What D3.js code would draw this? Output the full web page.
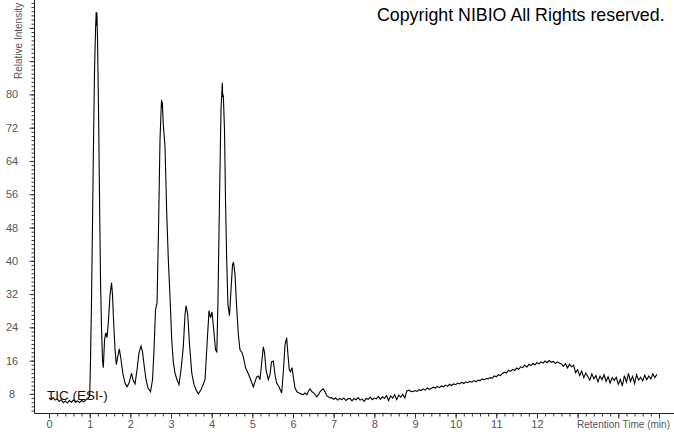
<!DOCTYPE html>
<html>
<head>
<meta charset="utf-8">
<script src="https://cdn.jsdelivr.net/npm/d3@7"></script>
<style>
  body { margin: 0; background: #fff; }
  svg { display: block; font-family: "Liberation Sans", Arial, sans-serif; }
</style>
</head>
<body>
<script>
// chromatogram trace, [retention time (min), relative intensity]
var baselineTrace = [
  [0.0, 7.0], [0.05, 6.6], [0.1, 7.1], [0.15, 6.5], [0.2, 6.8], [0.25, 6.2], [0.3, 6.6],
  [0.35, 5.9], [0.4, 6.3], [0.45, 5.8], [0.5, 6.4], [0.55, 6.0], [0.6, 6.5], [0.65, 6.1],
  [0.7, 6.3], [0.75, 5.9], [0.8, 6.4], [0.85, 6.1], [0.9, 6.5], [0.95, 6.8], [1.0, 7.5]
];

var peakTrace = [
  [1.02, 16.2], [1.045, 30.6], [1.07, 49.8], [1.094, 69.0], [1.119, 85.9], [1.143, 95.5],
  [1.16, 99.8], [1.168, 96.5], [1.175, 99.6], [1.18, 98.4], [1.193, 93.1], [1.217, 76.3],
  [1.242, 54.6], [1.266, 35.4], [1.291, 23.4], [1.315, 16.2], [1.335, 14.3], [1.365, 21.0],
  [1.394, 22.7], [1.426, 21.5], [1.463, 25.8], [1.5, 31.8], [1.537, 34.7], [1.561, 31.8],
  [1.586, 25.8], [1.623, 18.6], [1.655, 15.0], [1.684, 16.7], [1.729, 18.8], [1.77, 16.2],
  [1.82, 12.6], [1.869, 10.6], [1.918, 9.7], [1.967, 10.6], [2.029, 13.0], [2.065, 11.4],
  [2.115, 10.4], [2.164, 13.8], [2.213, 17.9], [2.262, 19.5], [2.299, 18.1], [2.336, 15.0],
  [2.385, 11.4], [2.434, 9.4], [2.496, 8.5], [2.545, 11.4], [2.582, 18.6], [2.619, 28.2],
  [2.656, 29.9], [2.692, 47.4], [2.729, 69.1], [2.766, 78.7], [2.776, 76.9], [2.786, 78.2],
  [2.81, 72.7], [2.852, 67.4], [2.894, 51.5], [2.934, 40.2], [2.975, 31.3], [3.017, 21.0],
  [3.056, 15.7], [3.098, 13.0], [3.147, 11.4], [3.196, 10.2], [3.246, 13.8], [3.302, 19.3],
  [3.344, 27.0], [3.369, 29.2], [3.41, 27.2], [3.456, 19.8], [3.51, 13.0], [3.565, 10.2],
  [3.614, 9.0], [3.671, 8.0], [3.737, 9.0], [3.787, 10.2], [3.836, 11.4], [3.885, 19.8],
  [3.934, 28.0], [3.971, 26.3], [4.008, 27.7], [4.057, 22.7], [4.094, 18.6], [4.126, 18.1],
  [4.155, 30.6], [4.192, 54.6], [4.229, 76.3], [4.261, 82.8], [4.272, 79.4], [4.286, 79.9],
  [4.315, 71.5], [4.34, 54.6], [4.369, 40.2], [4.4, 29.4], [4.438, 26.8], [4.475, 33.0],
  [4.512, 39.0], [4.537, 39.7], [4.574, 36.6], [4.611, 29.4], [4.656, 22.2], [4.696, 18.6],
  [4.746, 17.9], [4.783, 16.7], [4.832, 14.3], [4.893, 13.0], [4.942, 11.8], [5.024, 9.7],
  [5.065, 10.9], [5.106, 12.1], [5.151, 12.3], [5.188, 11.4], [5.225, 15.0], [5.27, 19.3],
  [5.3, 17.9], [5.336, 13.8], [5.392, 11.4], [5.434, 12.6], [5.471, 15.7], [5.515, 15.9],
  [5.557, 12.6], [5.598, 10.6], [5.655, 9.7], [5.721, 8.2], [5.766, 13.8], [5.803, 19.8],
  [5.844, 21.5], [5.876, 17.4], [5.908, 13.8], [5.938, 13.3], [5.975, 14.3], [6.012, 11.8],
  [6.049, 9.4], [6.098, 8.5], [6.147, 8.2], [6.196, 8.0], [6.253, 7.8], [6.295, 8.2],
  [6.344, 7.8], [6.381, 8.7], [6.418, 9.2], [6.467, 8.5], [6.516, 8.2], [6.582, 7.3],
  [6.627, 7.8], [6.663, 8.5], [6.713, 9.0], [6.745, 9.2], [6.786, 8.5], [6.836, 7.5],
  [6.909, 7.0]
];

var tailTrace = [
  [6.95, 7.1], [7.0, 6.7], [7.05, 7.0], [7.1, 6.5], [7.15, 6.9], [7.2, 6.6], [7.25, 7.0],
  [7.3, 6.4], [7.35, 6.8], [7.4, 6.9], [7.45, 6.3], [7.5, 6.9], [7.55, 6.6], [7.6, 7.1],
  [7.65, 6.5], [7.7, 6.8], [7.75, 6.2], [7.8, 6.9], [7.85, 6.7], [7.9, 7.2], [7.95, 6.6],
  [8.0, 7.0], [8.05, 6.8], [8.1, 7.4], [8.15, 6.7], [8.2, 7.3], [8.25, 6.9], [8.3, 7.6],
  [8.35, 6.4], [8.4, 7.5], [8.45, 7.0], [8.5, 7.8], [8.55, 6.6], [8.6, 7.7], [8.65, 7.2],
  [8.7, 7.9], [8.75, 7.0], [8.8, 8.7], [8.85, 8.9], [8.9, 8.6], [8.95, 8.5], [9.0, 8.8],
  [9.05, 8.6], [9.1, 9.0], [9.15, 8.8], [9.2, 9.2], [9.25, 8.9], [9.3, 9.4], [9.35, 9.1],
  [9.4, 9.3], [9.45, 9.6], [9.5, 9.4], [9.55, 9.8], [9.6, 9.5], [9.65, 9.9], [9.7, 9.7],
  [9.75, 10.1], [9.8, 9.8], [9.85, 10.3], [9.9, 10.0], [9.95, 10.4], [10.0, 10.2],
  [10.05, 10.6], [10.1, 10.4], [10.15, 10.8], [10.2, 10.5], [10.25, 10.9], [10.3, 10.7],
  [10.35, 11.0], [10.4, 10.8], [10.45, 11.2], [10.5, 10.9], [10.55, 11.3], [10.6, 11.2],
  [10.65, 11.6], [10.7, 11.4], [10.75, 11.7], [10.8, 11.6], [10.85, 11.9], [10.9, 11.8],
  [10.95, 12.3], [11.0, 12.1], [11.05, 12.6], [11.1, 12.4], [11.15, 12.9], [11.2, 13.2],
  [11.25, 13.0], [11.3, 13.7], [11.35, 13.4], [11.4, 13.9], [11.45, 13.6], [11.5, 14.2],
  [11.55, 13.9], [11.6, 14.5], [11.65, 14.3], [11.7, 14.9], [11.75, 14.4], [11.8, 15.1],
  [11.85, 14.8], [11.9, 15.3], [11.95, 15.0], [12.0, 15.5], [12.05, 15.2], [12.1, 15.7],
  [12.15, 15.4], [12.2, 15.9], [12.25, 15.5], [12.3, 16.0], [12.35, 15.6], [12.4, 15.8],
  [12.45, 15.3], [12.5, 15.7], [12.55, 15.4], [12.6, 15.2], [12.65, 14.6], [12.7, 15.3],
  [12.75, 14.2], [12.8, 15.1], [12.85, 14.5], [12.9, 14.9], [12.95, 13.1], [13.0, 13.8],
  [13.05, 12.4], [13.1, 13.5], [13.15, 11.9], [13.2, 13.0], [13.25, 12.2], [13.3, 11.3],
  [13.35, 12.8], [13.4, 11.6], [13.45, 12.4], [13.5, 10.9], [13.55, 12.3], [13.6, 11.4],
  [13.65, 12.6], [13.7, 11.0], [13.75, 12.1], [13.8, 10.6], [13.85, 11.9], [13.9, 11.2],
  [13.95, 12.0], [14.0, 10.3], [14.05, 11.5], [14.1, 9.9], [14.15, 12.4], [14.2, 10.8],
  [14.25, 12.9], [14.3, 11.0], [14.35, 12.2], [14.4, 10.5], [14.45, 12.6], [14.5, 11.3],
  [14.55, 12.0], [14.6, 11.1], [14.65, 12.5], [14.7, 11.4], [14.75, 12.3], [14.8, 11.6],
  [14.85, 12.8], [14.9, 11.9], [14.95, 12.7]
];

var xTicks = [0, 1, 2, 3, 4, 5, 6, 7, 8, 9, 10, 11, 12, 13, 14, 15];
var xLabelled = [0, 1, 2, 3, 4, 5, 6, 7, 8, 9, 10, 11, 12];
var yTicks = [8, 16, 24, 32, 40, 48, 56, 64, 72, 80, 88, 96];
var yLabelled = [8, 16, 24, 32, 40, 48, 56, 64, 72, 80];

var width = 674,
  height = 434;

var svg = d3
  .select("body")
  .append("svg")
  .attr("width", width)
  .attr("height", height);

var x = d3.scaleLinear().domain([-0.37, 15.37]).range([34, 674]);
var y = d3.scaleLinear().domain([3.4, 102.7]).range([413, 0]);

// minor ticks
var xMinor = d3.range(0, 76).map(function (i) {
  return +(i * 0.2).toFixed(1);
});
var yMinor = d3.range(4, 103);

svg
  .append("g")
  .attr("transform", "translate(0,413.5)")
  .call(d3.axisBottom(x).tickValues(xMinor).tickSize(3).tickFormat(""))
  .call(function (g) {
    g.select(".domain").remove();
  });

svg
  .append("g")
  .attr("transform", "translate(34.5,0)")
  .call(d3.axisLeft(y).tickValues(yMinor).tickSize(3).tickFormat(""))
  .call(function (g) {
    g.select(".domain").remove();
  });

// major ticks + labels
var xAxis = svg
  .append("g")
  .attr("transform", "translate(0,413.5)")
  .call(
    d3
      .axisBottom(x)
      .tickValues(xTicks)
      .tickSize(5)
      .tickPadding(2)
      .tickFormat(function (d) {
        return xLabelled.indexOf(d) >= 0 ? d : "";
      })
  );
xAxis.select(".domain").remove();
xAxis
  .selectAll("text")
  .style("font-size", "11px")
  .style("fill", "#555")
  .style("font-family", "Liberation Sans, Arial, sans-serif");

var yAxis = svg
  .append("g")
  .attr("transform", "translate(34.5,0)")
  .call(
    d3
      .axisLeft(y)
      .tickValues(yTicks)
      .tickSize(5)
      .tickFormat(function (d) {
        return yLabelled.indexOf(d) >= 0 ? d : "";
      })
  );
yAxis.select(".domain").remove();
yAxis
  .selectAll("text")
  .attr("x", -22.5)
  .attr("text-anchor", "middle")
  .style("font-size", "11px")
  .style("fill", "#555")
  .style("font-family", "Liberation Sans, Arial, sans-serif");

svg.selectAll(".tick line").attr("stroke", "#333");

// axis lines
svg
  .append("line")
  .attr("x1", 34.5)
  .attr("x2", 34.5)
  .attr("y1", 0)
  .attr("y2", 413.5)
  .attr("stroke", "#222");
svg
  .append("line")
  .attr("x1", 34.5)
  .attr("x2", 674)
  .attr("y1", 413.5)
  .attr("y2", 413.5)
  .attr("stroke", "#222");

// trace
var trace = baselineTrace.concat(peakTrace, tailTrace);
var line = d3
  .line()
  .x(function (d) {
    return x(d[0]);
  })
  .y(function (d) {
    return y(d[1]);
  });

svg
  .append("path")
  .datum(trace)
  .attr("d", line)
  .attr("fill", "none")
  .attr("stroke", "#000")
  .attr("stroke-width", 1.1);

// texts
svg
  .append("text")
  .attr("transform", "translate(22,79) rotate(-90)")
  .style("font-size", "10px")
  .style("fill", "#555")
  .text("Relative Intensity");

svg
  .append("text")
  .attr("x", 577)
  .attr("y", 428)
  .attr("textLength", 93)
  .attr("lengthAdjust", "spacingAndGlyphs")
  .style("font-size", "10.5px")
  .style("fill", "#555")
  .text("Retention Time (min)");

svg
  .append("text")
  .attr("x", 47)
  .attr("y", 400)
  .style("font-size", "13.5px")
  .style("fill", "#111")
  .text("TIC (ESI-)");

svg
  .append("text")
  .attr("x", 377)
  .attr("y", 21)
  .style("font-size", "17.8px")
  .style("fill", "#000")
  .text("Copyright NIBIO All Rights reserved.");
</script>
</body>
</html>
